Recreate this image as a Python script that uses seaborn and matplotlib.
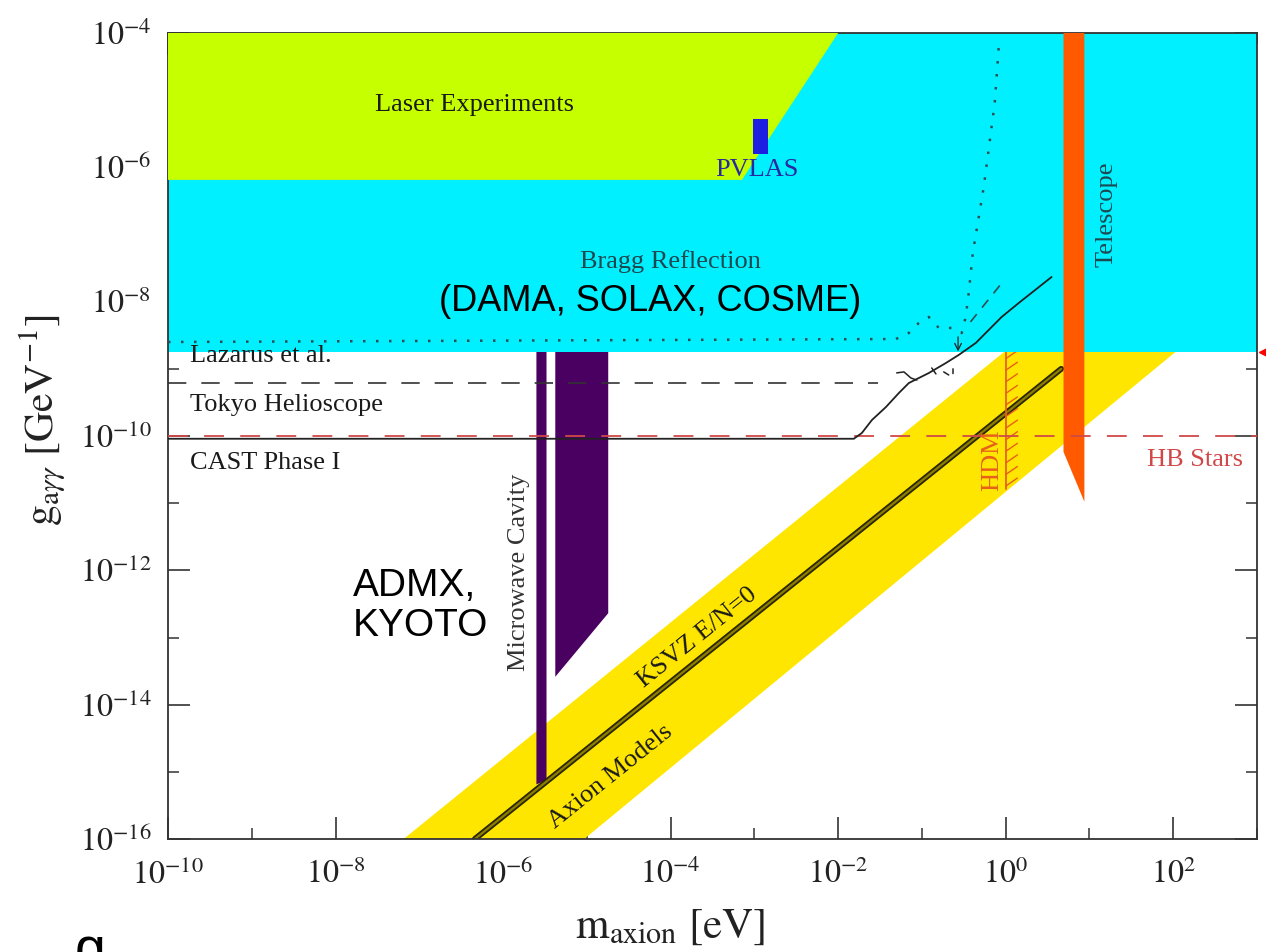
import numpy as np
import pandas as pd
import matplotlib
matplotlib.use("Agg")
import matplotlib.pyplot as plt
from matplotlib.ticker import FixedLocator, FuncFormatter, NullFormatter
import matplotlib.transforms as mtransforms
import seaborn as sns

# ---------------- data ----------------
x_lim = (1e-10, 1e3)
y_lim = (1e-16, 1e-4)
x_major_exp = [-10, -8, -6, -4, -2, 0, 2]
x_minor_exp = [-9, -7, -5, -3, -1, 1, 3]
y_major_exp = [-16, -14, -12, -10, -8, -6, -4]
y_minor_exp = [-15, -13, -11, -9, -7, -5]

laser_m = [1e-10, 1e-2, 7.1e-4, 1e-10]
laser_g = [1e-4, 1e-4, 6.5e-7, 6.5e-7]

bragg_m = [1e-10, 1e3, 1e3, 1e-10]
bragg_g = [1e-4, 1e-4, 1.78e-9, 1.78e-9]

pvlas_m = [9.6e-4, 1.46e-3, 1.46e-3, 9.6e-4]
pvlas_g = [1.6e-6, 1.6e-6, 5.2e-6, 5.2e-6]

axion_band_m = [6.5e-8, 9.3e-6, 119.0, 1.07]
axion_band_g = [1e-16, 1e-16, 2.0e-9, 2.0e-9]

ksvz_m = [4.6e-7, 4.6]
ksvz_g = [1e-16, 1.0e-9]

telescope_m = [4.9, 8.7, 8.7, 4.9]
telescope_g = [1e-4, 1e-4, 1.05e-11, 5.8e-11]

cavity1_m = [2.5e-6, 3.3e-6, 3.3e-6, 2.5e-6]
cavity1_g = [2.0e-9, 2.0e-9, 7.5e-16, 6.5e-16]
cavity2_m = [4.2e-6, 1.8e-5, 1.8e-5, 4.2e-6]
cavity2_g = [2.0e-9, 2.0e-9, 2.3e-13, 2.6e-14]

hb_m = [1e-10, 1e3]
hb_g = [1e-10, 1e-10]

tokyo_m = [1e-10, 0.03]
tokyo_g = [6.2e-10, 6.2e-10]
tokyo2_m = [0.050, 0.061, 0.074, 0.087, np.nan, 0.131, 0.147, np.nan, 0.182, 0.209, np.nan, 0.235, 0.235]
tokyo2_g = [8.7e-10, 9.0e-10, 7.3e-10, 6.8e-10, np.nan, 1.03e-9, 8.4e-10, np.nan, 9.0e-10, 8.1e-10, np.nan, 8.5e-10, 1.0e-9]

cast_m = [1e-10, 0.0154, 0.0192, 0.0253, 0.0372, 0.0531, 0.0698, 0.121, 0.193,
          0.275, 0.44, 0.895, 1.43, 3.53]
cast_g = [9.1e-11, 9.1e-11, 1.11e-10, 1.73e-10, 2.70e-10, 4.37e-10, 6.15e-10,
          8.67e-10, 1.22e-9, 1.61e-9, 2.43e-9, 5.92e-9, 9.55e-9, 2.33e-8]

lazarus_m = [1e-10, 0.0489, 0.0698, 0.0918, 0.121, 0.159, 0.227, 0.299, 0.333,
             0.362, 0.405, 0.547, 0.74, 0.826]
lazarus_g = [2.51e-9, 2.78e-9, 3.42e-9, 4.82e-9, 5.92e-9, 4.06e-9, 4.06e-9,
             3.42e-9, 5.92e-9, 1.35e-8, 5.31e-8, 5.09e-7, 9.08e-6, 6.19e-5]

extra_dash_m = [0.38, 0.90]
extra_dash_g = [5.0e-9, 1.9e-8]

hdm_m = 1.0
hdm_g_range = (1.78e-9, 1.6e-11)

# ---------------- style ----------------
sns.set_theme(style="ticks")
plt.rcParams["font.family"] = ["Liberation Serif", "DejaVu Serif"]
plt.rcParams["mathtext.fontset"] = "stix"

W, H = 1266, 952
fig = plt.figure(figsize=(W / 100, H / 100), dpi=100)
ax = fig.add_axes([168 / W, 1 - 839 / H, (1257 - 168) / W, (839 - 33) / H])
ax.set_xscale("log")
ax.set_yscale("log")
ax.set_xlim(*x_lim)
ax.set_ylim(*y_lim)

c_green = "#C6FF00"
c_cyan = "#00F0FF"
c_yellow = "#FFE600"
c_purple = "#4A0060"
c_blue = "#1E1EE0"
c_orange = "#FF5A00"

# regions
ax.fill(axion_band_m, axion_band_g, color=c_yellow, lw=0, zorder=1)
ax.fill(cavity1_m, cavity1_g, color=c_purple, lw=0, zorder=1.2)
ax.fill(cavity2_m, cavity2_g, color=c_purple, lw=0, zorder=1.2)

# KSVZ line (dark outline with olive core)
df_ksvz = pd.DataFrame({"m": ksvz_m, "g": ksvz_g})
sns.lineplot(data=df_ksvz, x="m", y="g", ax=ax, color="#2b2600", lw=4.2,
             estimator=None, sort=False, zorder=1.5)
sns.lineplot(data=df_ksvz, x="m", y="g", ax=ax, color="#8C7E00", lw=1.6,
             estimator=None, sort=False, zorder=1.6)

ax.fill(bragg_m, bragg_g, color=c_cyan, lw=0, zorder=2)
ax.fill(laser_m, laser_g, color=c_green, lw=0, zorder=3)
ax.fill(pvlas_m, pvlas_g, color=c_blue, lw=0, zorder=4)
ax.fill(telescope_m, telescope_g, color=c_orange, lw=0, zorder=4)

# HDM line with hatches
hdm_col = "#E8601A"
ax.plot([hdm_m, hdm_m], list(hdm_g_range), color=hdm_col, lw=1.3, zorder=1.8)
for lg in np.linspace(np.log10(hdm_g_range[1]) + 0.05, np.log10(hdm_g_range[0]) - 0.1, 12):
    ax.plot([hdm_m, hdm_m * 10 ** 0.14], [10 ** lg, 10 ** (lg + 0.12)],
            color=hdm_col, lw=1.0, zorder=1.8)

# limit lines
sns.lineplot(x=hb_m, y=hb_g, ax=ax, color="#D04848", lw=1.3,
             linestyle=(0, (11, 9)), estimator=None, sort=False, zorder=4.5)
sns.lineplot(x=tokyo_m, y=tokyo_g, ax=ax, color="#333333", lw=1.2,
             linestyle=(0, (11, 9)), estimator=None, sort=False, zorder=4.5)
ax.plot(tokyo2_m, tokyo2_g, color="#222222", lw=1.1, zorder=4.5)
sns.lineplot(x=cast_m, y=cast_g, ax=ax, color="#222222", lw=1.3,
             estimator=None, sort=False, zorder=5)
sns.lineplot(x=lazarus_m, y=lazarus_g, ax=ax, color="#2F4F55", lw=1.8,
             linestyle=(0, (1, 4.2)), estimator=None, sort=False, zorder=5)
ax.plot(extra_dash_m, extra_dash_g, color="#2F4F55", lw=1.2,
        linestyle=(0, (6, 5)), zorder=5)
ax.annotate("", xy=(0.27, 1.65e-9), xytext=(0.27, 3.3e-9),
            arrowprops=dict(arrowstyle="->", lw=0.9, color="#222222"), zorder=5)

# red marker on right edge
trans = mtransforms.blended_transform_factory(ax.transAxes, ax.transData)
ax.plot([1.006], [1.78e-9], marker="<", color="red", ms=7, transform=trans,
        clip_on=False, zorder=6)

# ---------------- texts ----------------
fs = 19
dark = "#1a1a1a"
ax.text(4.56e-7, 8.5e-6, "Laser Experiments", fontsize=fs, color=dark, ha="center", va="center", zorder=7)
ax.text(1.08e-3, 9.1e-7, "PVLAS", fontsize=fs, color="#2828A0", ha="center", va="center", zorder=7)
ax.text(9.9e-5, 3.9e-8, "Bragg Reflection", fontsize=fs, color="#1E4850", ha="center", va="center", zorder=7)
ax.text(5.7e-5, 1.02e-8, "(DAMA, SOLAX, COSME)", fontsize=26, color="black",
        family=["Liberation Sans", "DejaVu Sans"], ha="center", va="center", zorder=7)
ax.text(1.83e-10, 1.55e-9, "Lazarus et al.", fontsize=fs, color=dark, ha="left", va="center", zorder=7)
ax.text(1.83e-10, 2.9e-10, "Tokyo Helioscope", fontsize=fs, color=dark, ha="left", va="center", zorder=7)
ax.text(1.83e-10, 4.0e-11, "CAST Phase I", fontsize=fs, color=dark, ha="left", va="center", zorder=7)
ax.text(1.57e-6, 9.5e-13, "Microwave Cavity", fontsize=fs, color="#333333", rotation=90,
        ha="center", va="center", zorder=7)
ax.text(1.6e-8, 2.95e-13, "ADMX,\nKYOTO", fontsize=28, color="black",
        family=["Liberation Sans", "DejaVu Sans"], ha="left", va="center",
        linespacing=1.15, zorder=7)
ax.text(2.07e-4, 9.8e-14, "KSVZ E/N=0", fontsize=fs, color=dark, rotation=38.7,
        rotation_mode="anchor", ha="center", va="center", zorder=7)
ax.text(1.9e-5, 8.4e-16, "Axion Models", fontsize=fs, color=dark, rotation=38.7,
        rotation_mode="anchor", ha="center", va="center", zorder=7)
ax.text(16, 2.0e-7, "Telescope", fontsize=fs, color="#1E4850", rotation=90,
        ha="center", va="center", zorder=7)
ax.text(0.70, 4.4e-11, "HDM", fontsize=fs, color=hdm_col, rotation=90,
        ha="center", va="center", zorder=7)
ax.text(184, 4.4e-11, "HB Stars", fontsize=fs, color="#D04848", ha="center", va="center", zorder=7)

# ---------------- axes styling ----------------
ax.xaxis.set_major_locator(FixedLocator([10.0 ** e for e in x_major_exp]))
ax.xaxis.set_minor_locator(FixedLocator([10.0 ** e for e in x_minor_exp]))
ax.yaxis.set_major_locator(FixedLocator([10.0 ** e for e in y_major_exp]))
ax.yaxis.set_minor_locator(FixedLocator([10.0 ** e for e in y_minor_exp]))
fmt = FuncFormatter(lambda v, p: r"$10^{%d}$" % int(round(np.log10(v))))
ax.xaxis.set_major_formatter(fmt)
ax.yaxis.set_major_formatter(fmt)
ax.xaxis.set_minor_formatter(NullFormatter())
ax.yaxis.set_minor_formatter(NullFormatter())

ax.tick_params(which="both", direction="in", top=True, right=True, color="#333333")
ax.tick_params(which="major", length=16, width=1.2, labelsize=23, labelcolor="#222222")
ax.tick_params(which="minor", length=8, width=1.1)
ax.tick_params(axis="y", which="major", pad=12)
ax.tick_params(axis="x", which="major", pad=15)
for s in ax.spines.values():
    s.set_color("#333333")
    s.set_linewidth(1.3)

ax.set_xlabel(r"$\mathrm{m}_{\mathrm{axion}}\ [\mathrm{eV}]$", fontsize=31, color="#222222")
ax.xaxis.set_label_coords(0.461, -0.085)
ax.set_ylabel(r"$\mathrm{g}_{\mathrm{a}\gamma\gamma}\ [\mathrm{GeV}^{-1}]$", fontsize=30, color="#222222")
ax.yaxis.set_label_coords(-0.092, 0.52)

fig.text(75 / W, -14 / H, "g", fontsize=40, family=["Liberation Sans", "DejaVu Sans"],
         color="black", ha="left", va="baseline")

fig.savefig("out.png", dpi=100)
